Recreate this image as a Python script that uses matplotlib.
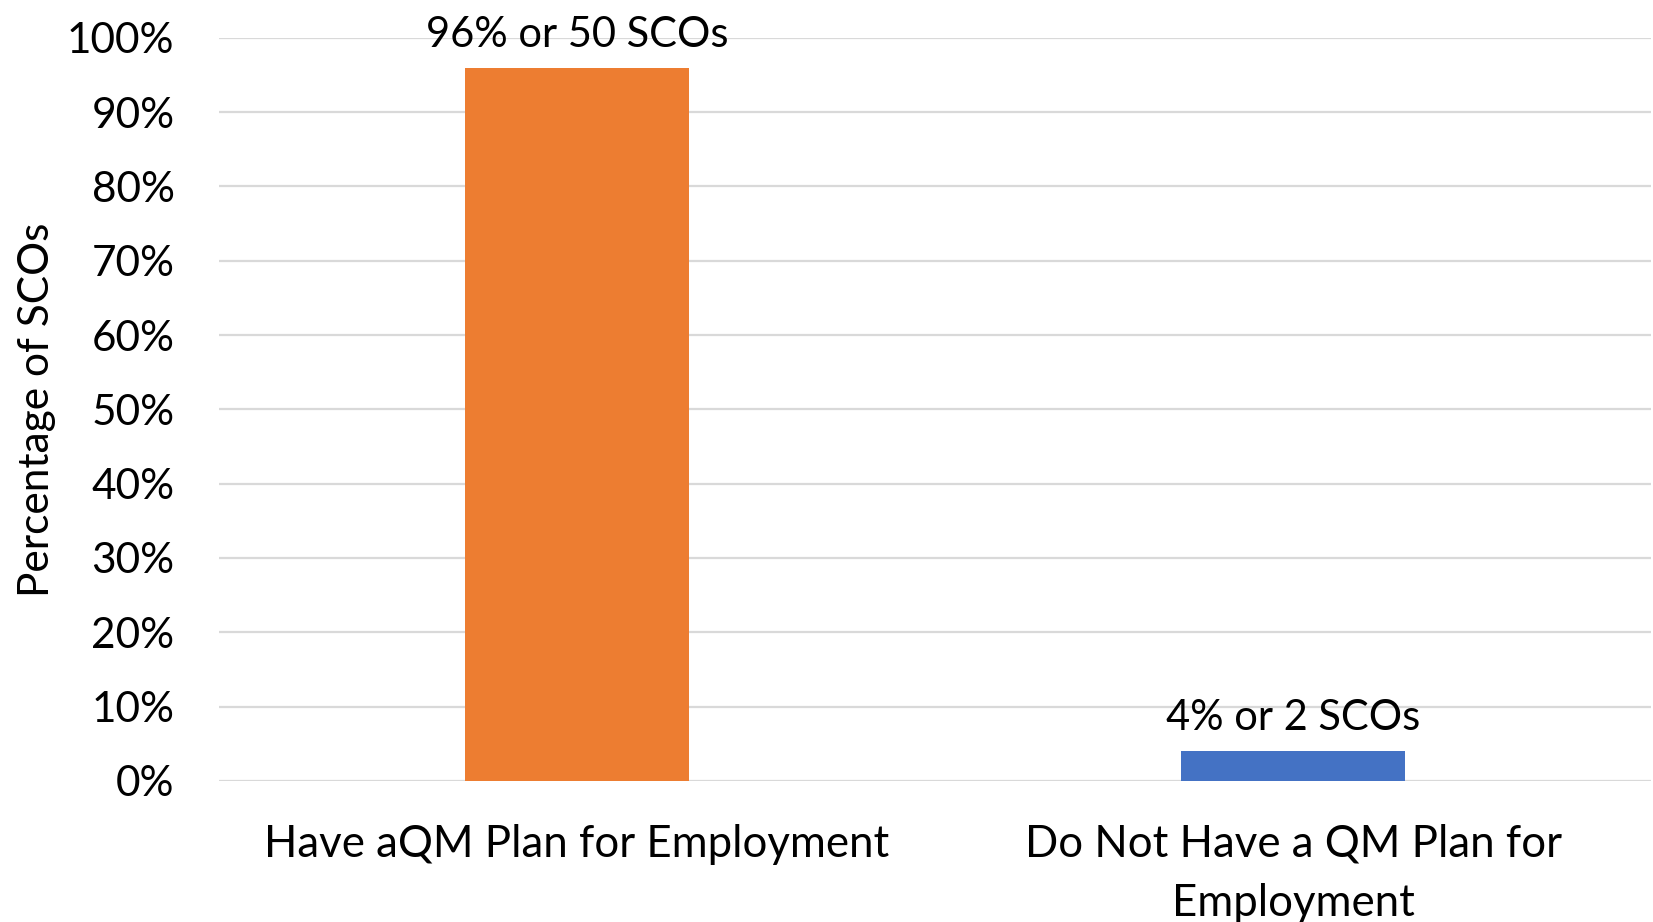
import matplotlib
matplotlib.use("Agg")
import matplotlib.pyplot as plt
from matplotlib.ticker import PercentFormatter

# share of SCOs with / without a QM plan for employment
categories = ["Have aQM Plan for Employment", "Do Not Have a QM Plan for\nEmployment"]
shares = [0.96, 0.04]
counts = [50, 2]
colors = ["#ED7D31", "#4472C4"]

plt.rcParams["font.family"] = ["Lato", "DejaVu Sans"]

fig = plt.figure(figsize=(16.53, 9.22), dpi=100)
ax = fig.add_axes([0.1325, 0.153, 0.8663, 0.806])

x = range(len(categories))
bars = ax.bar(x, shares, width=0.314, color=colors, zorder=3)

for bar, share, n in zip(bars, shares, counts):
    ax.annotate(f"{share:.0%} or {n} SCOs",
                (bar.get_x() + bar.get_width() / 2, bar.get_height()),
                xytext=(0, 10), textcoords="offset points",
                ha="center", va="bottom", fontsize=30)

ax.set_xlim(-0.5, 1.5)
ax.set_ylim(0, 1)
ax.set_yticks([i / 10 for i in range(11)])
ax.yaxis.set_major_formatter(PercentFormatter(1.0, decimals=0))
ax.set_xticks(list(x))
ax.set_xticklabels(categories, fontsize=31.5, linespacing=1.55)
ax.tick_params(axis="y", labelsize=30.5, length=0, pad=32)
ax.tick_params(axis="x", length=0, pad=31)
ax.grid(axis="y", color="#d9d9d9", linewidth=1.6, zorder=0)
for s in ax.spines.values():
    s.set_visible(False)

ax.set_ylabel("Percentage of SCOs", fontsize=30.5, labelpad=8)

fig.savefig("out.png", dpi=100)
